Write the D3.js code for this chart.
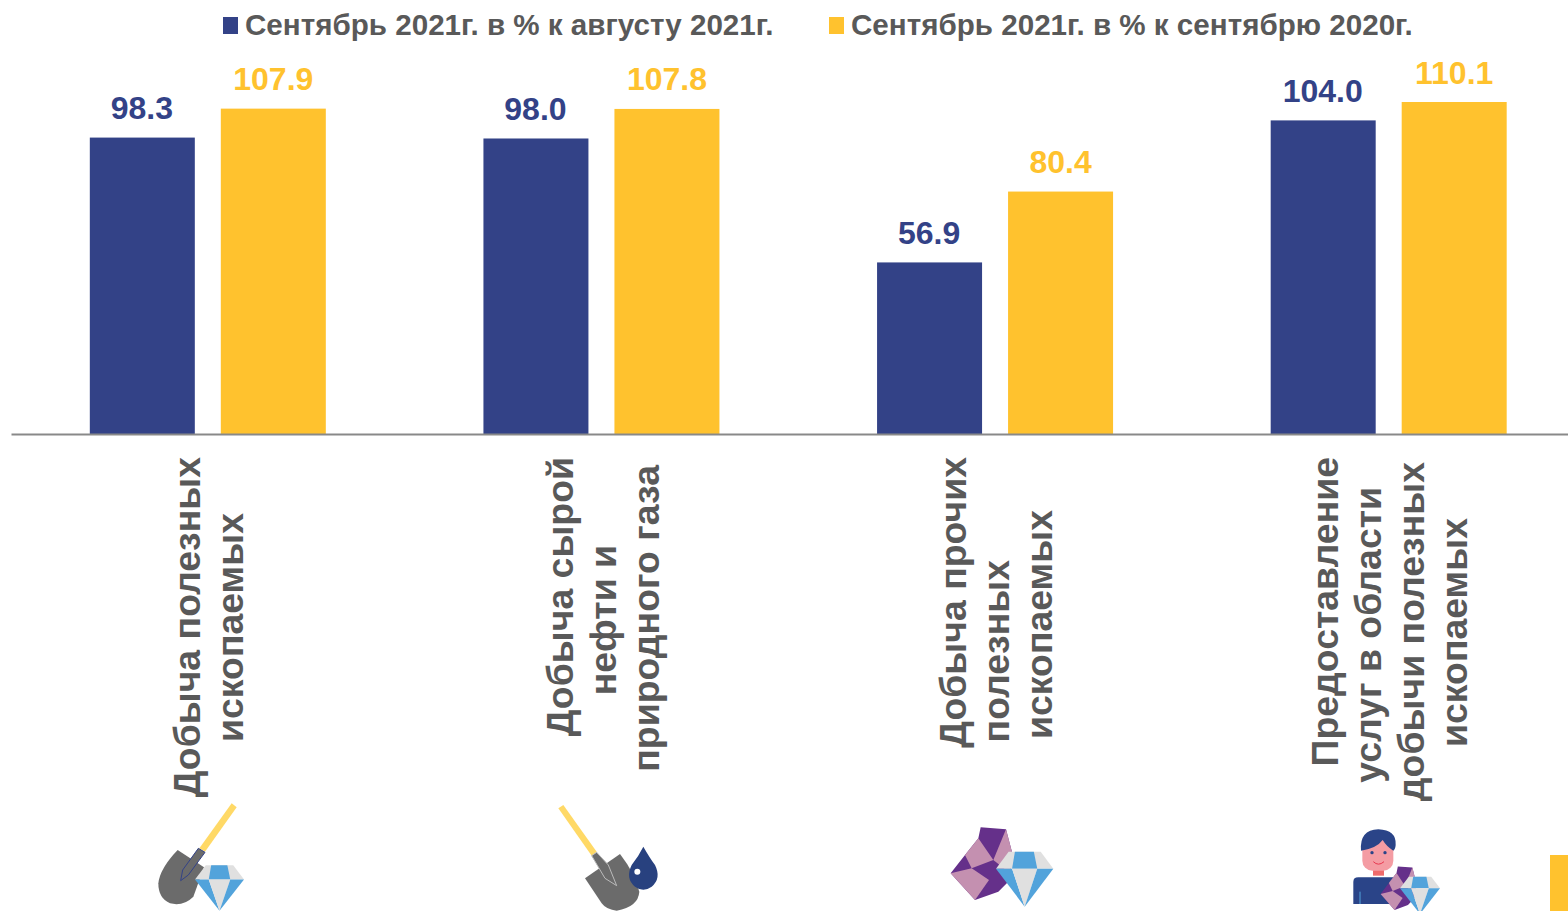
<!doctype html>
<html>
<head>
<meta charset="utf-8">
<script src="https://d3js.org/d3.v7.min.js"></script>
<style type="text/css">
    html,body{
        margin: 0;
        overflow: hidden;
        background: #fff;
    }
    text {
        font-family: "Liberation Sans", Arial, sans-serif;
        font-weight: bold;
    }
</style>
</head>
<body>
<script type="text/javascript">
var seriesNames = ["Сентябрь 2021г. в % к августу 2021г.", "Сентябрь 2021г. в % к сентябрю 2020г."];
var categories = ["mining", "oil", "other", "services"];
var categoryLines = [
    ["Добыча полезных", "ископаемых"],
    ["Добыча сырой", "нефти и", "природного газа"],
    ["Добыча прочих", "полезных", "ископаемых"],
    ["Предоставление", "услуг в области", "добычи полезных", "ископаемых"]
];
var monthValues = [98.3, 98.0, 56.9, 104.0];
var yearValues = [107.9, 107.8, 80.4, 110.1];

var navy = "#334287", yellow = "#FFC22E", grey = "#595959";
var w = 1568, h = 911, baseY = 434;

var svg = d3.select("body").append("svg")
    .attr("width", w)
    .attr("height", h)
    .style("display", "block");

var x0 = d3.scaleBand().domain(categories).range([11, 1585.5]);
var x1 = d3.scaleOrdinal().domain([0, 1]).range([-118, 13]);
var y = d3.scaleLinear().domain([0, 110.1]).range([baseY, 102]);
var barW = 105;

// bars and value labels
[monthValues, yearValues].forEach(function(values, s){
    var color = s == 0 ? navy : yellow;
    var bars = svg.append("g").selectAll("g").data(values).enter().append("g")
        .attr("transform", function(d, i){
            return "translate(" + (x0(categories[i]) + x0.bandwidth()/2 + x1(s)) + ",0)";
        });
    bars.append("rect")
        .attr("width", barW)
        .attr("y", function(d){return y(d)})
        .attr("height", function(d){return baseY - y(d)})
        .attr("fill", color);
    bars.append("text")
        .attr("x", barW/2 + (s == 0 ? -0.5 : 0))
        .attr("y", function(d){return y(d) - 18.5})
        .attr("text-anchor", "middle")
        .attr("font-size", 32)
        .attr("fill", color)
        .text(function(d){return d.toFixed(1)});
});

// axis
var axis = svg.append("g")
    .attr("transform", "translate(0," + baseY + ")")
    .call(d3.axisBottom(x0).tickSize(0).tickFormat(""));
axis.select(".domain").attr("stroke", "#898989").attr("stroke-width", 2);

// rotated category labels, the lines are not evenly centred in the original
var lineTops = [[457, 513], [457, 545, 465], [457, 560, 510], [457, 487, 462, 518]];
var lineX = [[200, 243], [573, 616, 659], [966, 1009, 1052], [1338, 1381, 1424, 1467]];
categoryLines.forEach(function(lines, c){
    svg.append("g").selectAll("text").data(lines).enter().append("text")
        .attr("transform", function(d, i){
            return "translate(" + lineX[c][i] + "," + lineTops[c][i] + ") rotate(-90)";
        })
        .attr("text-anchor", "end")
        .attr("font-size", 37.4)
        .attr("fill", grey)
        .text(function(d){return d});
});

// legend
var legendX = [223, 829];
seriesNames.forEach(function(name, i){
    svg.append("rect")
        .attr("x", legendX[i]).attr("y", 17)
        .attr("width", 15).attr("height", 17)
        .attr("fill", i == 0 ? navy : yellow);
    svg.append("text")
        .attr("x", legendX[i] + 22).attr("y", 35)
        .attr("font-size", 29.6)
        .attr("fill", grey)
        .text(name);
});

// corner tab of the slide
svg.append("rect").attr("x", 1550).attr("y", 855).attr("width", 18).attr("height", 56).attr("fill", yellow);

// icons, drawn in 3x units
function icon(ox, oy, s){
    return svg.append("g").attr("transform", "translate(" + ox + "," + oy + ") scale(" + (s || 1/3) + ")");
}
function poly(g, pts, fill){
    return g.append("polygon").attr("points", pts).attr("fill", fill);
}
function diamond(g, l, t, wd, ht){
    var d = g.append("g").attr("transform", "translate(" + l + "," + t + ") scale(" + wd/100 + "," + ht/100 + ")");
    poly(d, "22,0 78,0 100,31 0,31", "#E0E0E0");
    poly(d, "33,0 66,0 72,31 28,31", "#52A3DB");
    poly(d, "0,31 28,31 50,100", "#52A3DB");
    poly(d, "28,31 72,31 50,100", "#E0E0E0");
    poly(d, "72,31 100,31 50,100", "#52A3DB");
}
function rock(g){
    poly(g, "137,52 213,58 232,130 225,210 190,245 120,270 47,190 90,135 130,85", "#65308A");
    poly(g, "213,58 232,130 225,190 175,150", "#C490B0");
    poly(g, "130,85 175,150 110,175 90,135", "#C490B0");
    poly(g, "47,190 110,175 162,210 120,270", "#C490B0");
}

var ic1 = icon(130, 790);
poly(ic1, "305,40 320,52 225,185 208,175", "#FFD966");
ic1.append("path").attr("d", "M143,180 L222,232 L190,320 Q160,350 120,340 Q85,325 85,280 Q90,235 143,180Z").attr("fill", "#6B6B6B");
poly(ic1, "205,175 225,187 175,255 152,272 158,240", "#6B6B6B").attr("stroke", navy).attr("stroke-width", 3);
diamond(ic1, 195, 226, 147, 136);

var ic2 = icon(540, 790);
poly(ic2, "55,55 70,45 170,185 155,197", "#FFD966");
ic2.append("path").attr("d", "M240,192 Q285,250 298,305 Q295,350 230,362 Q200,360 185,340 L135,265Z").attr("fill", "#6B6B6B");
poly(ic2, "155,197 170,187 205,225 230,287 195,265", "#6B6B6B").attr("stroke", "#BBBBBB").attr("stroke-width", 3);
ic2.append("path").attr("d", "M310,170 Q330,205 345,225 Q365,265 335,290 Q310,308 285,290 Q255,265 275,225 Q295,200 310,170Z").attr("fill", "#28417F");
ic2.append("circle").attr("cx", 292).attr("cy", 245).attr("r", 9).attr("fill", "#fff");

var ic3 = icon(935, 810);
rock(ic3);
diamond(ic3, 183, 125, 172, 165);

var ic4 = icon(1330, 810);
ic4.append("path").attr("d", "M70,282 L70,215 Q70,202 85,202 L200,202 L190,282Z").attr("fill", "#2A4488");
ic4.append("line").attr("x1", 90).attr("y1", 245).attr("x2", 90).attr("y2", 282).attr("stroke", "#52A3DB").attr("stroke-width", 3);
ic4.append("rect").attr("x", 129).attr("y", 178).attr("width", 33).attr("height", 19).attr("fill", "#EF6B6B");
ic4.append("rect").attr("x", 97).attr("y", 80).attr("width", 93).attr("height", 102).attr("rx", 30).attr("fill", "#F49CA3");
ic4.append("path").attr("d", "M93,122 Q88,60 145,58 Q200,60 197,105 Q196,118 190,122 Q170,110 158,90 Q140,115 93,122Z").attr("fill", "#2A4488");
[126, 165].forEach(function(cx){
    ic4.append("circle").attr("cx", cx).attr("cy", 128).attr("r", 5).attr("fill", "#2A4488");
});
ic4.append("path").attr("d", "M130,155 Q145,170 162,155").attr("fill", "none").attr("stroke", "#E8384F").attr("stroke-width", 3);
rock(ic4.append("g").attr("transform", "translate(125,138) scale(0.573,0.6)"));
diamond(ic4, 210, 200, 120, 112);
</script>
</body>
</html>
